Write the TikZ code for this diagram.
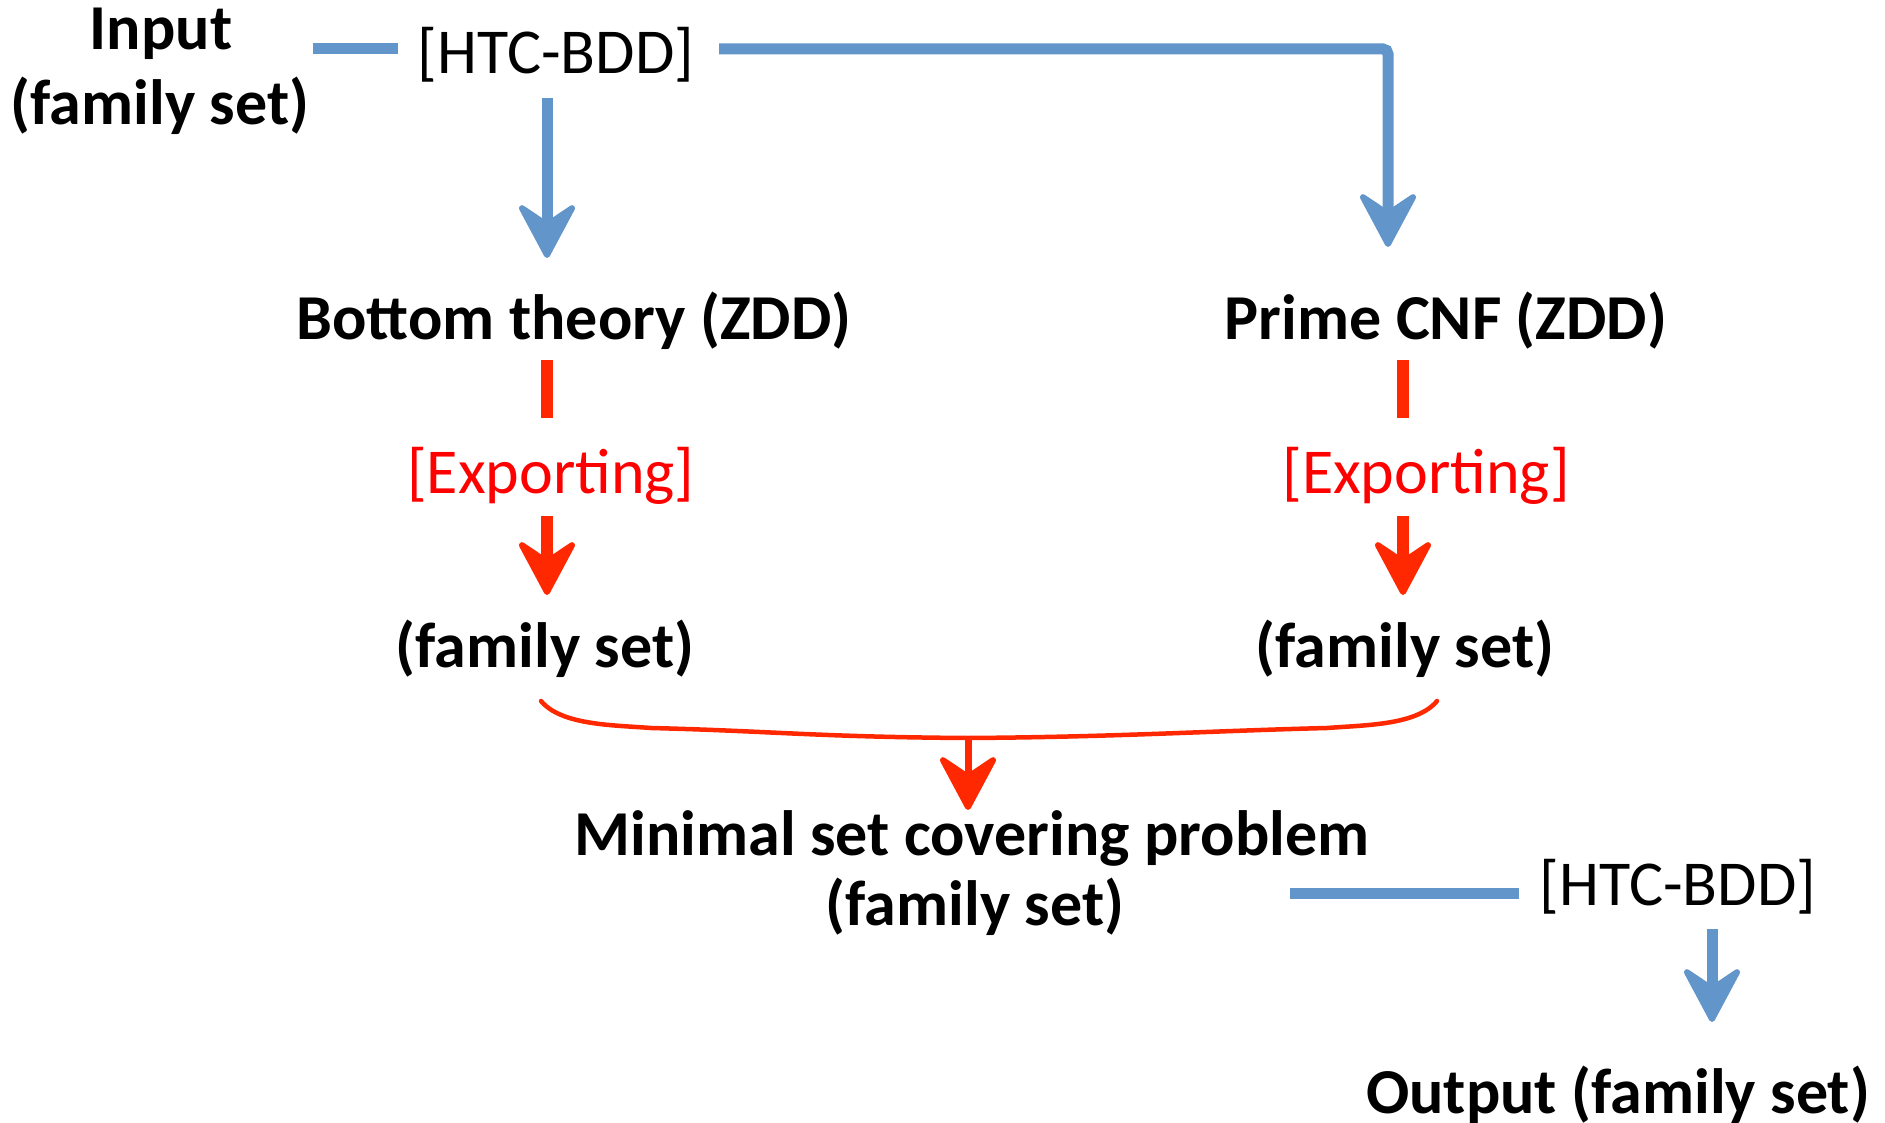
\documentclass[tikz,border=0pt]{standalone}
\usepackage{fontspec}
\setmainfont{Carlito}
\usetikzlibrary{arrows.meta,calc}
\definecolor{flowblue}{RGB}{98,149,202}
\definecolor{flowred}{RGB}{255,40,0}
\definecolor{labelred}{RGB}{255,0,0}

\begin{document}
\begin{tikzpicture}[x=1pt,y=-1pt,
  every node/.style={inner sep=0pt, outer sep=0pt},
  boldtext/.style={font=\fontsize{64}{75}\selectfont\bfseries, anchor=base},
  plaintext/.style={font=\fontsize{64}{75}\selectfont, anchor=base},
  redlabel/.style={plaintext, text=labelred},
  headtip/.style={-{Stealth[length=62pt,width=66pt,inset=22pt,round,line width=6pt]}},
  blueline/.style={draw=flowblue, line width=11pt},
  bluearrow/.style={blueline, headtip},
  redline/.style={draw=flowred, line width=12pt},
  redarrow/.style={redline, headtip},
  bracecurve/.style={draw=flowred, line width=4.5pt, line cap=round},
  mergearrow/.style={draw=flowred, line width=7pt, headtip}
]
\useasboundingbox (0,0) rectangle (1885,1123);

% text blocks
\node[boldtext] (inA) at (161,50) {Input};
\node[boldtext] (inB) at (160,125) {(family set)};
\node[plaintext] (htcA) at (556,74) {[HTC-BDD]};
\node[boldtext] (bot) at (574,339) {Bottom theory (ZDD)};
\node[boldtext] (prime) at (1446,339) {Prime CNF (ZDD)};
\node[redlabel] (expL) at (551,493) {[Exporting]};
\node[redlabel] (expR) at (1426,493) {[Exporting]};
\node[boldtext] (famL) at (545,667) {(family set)};
\node[boldtext] (famR) at (1405,667) {(family set)};
\node[boldtext] (msc) at (972,855) {Minimal set covering problem};
\node[boldtext] (mscB) at (975,925) {(family set)};
\node[plaintext] (htcB) at (1678,905) {[HTC-BDD]};
\node[boldtext] (out) at (1618,1113) {Output (family set)};

% input -> HTC-BDD
\draw[blueline] ($(inB.east |- htcA.base)+(4,-25)$) -- ($(htcA.base west)+(-20,-25)$);
% HTC-BDD -> prime CNF
\draw[bluearrow, rounded corners=5pt] ($(htcA.base east)+(25,-25)$) -| ($(prime.base)+(-58,-92)$);
% HTC-BDD -> bottom theory
\draw[bluearrow] ($(htcA.base)+(-9,24)$) -- ($(bot.base)+(-27,-81)$);

% exporting, left branch
\draw[redline] ($(bot.base)+(-27,21)$) -- ($(expL.base)+(-4,-75)$);
\draw[redarrow] ($(expL.base)+(-4,23)$) -- ($(famL.base)+(2,-72)$);
% exporting, right branch
\draw[redline] ($(prime.base)+(-43,21)$) -- ($(expR.base)+(-23,-75)$);
\draw[redarrow] ($(expR.base)+(-23,23)$) -- ($(famR.base)+(-2,-72)$);

% merging brace
\coordinate (bl) at ($(famL.base)+(-4,34)$);
\coordinate (br) at ($(famR.base)+(32,34)$);
\coordinate (mid) at ($(msc.base)+(-4,-117)$);
\coordinate (l2) at ($(bl)+(110,27)$);
\coordinate (r2) at ($(br)+(-110,27)$);
\draw[bracecurve] (bl) .. controls +(20,24) and +(-40,-3) .. (l2)
  .. controls +(120,3) and +(-150,-1) .. (mid)
  .. controls +(150,-1) and +(-120,3) .. (r2)
  .. controls +(40,-3) and +(-20,24) .. (br);
\draw[mergearrow] (mid) -- ($(msc.base)+(-4,-45)$);

% covering problem -> HTC-BDD -> output
\draw[blueline] ($(mscB.base east)+(166,-32)$) -- ($(htcB.base west)+(-21,-12)$);
\draw[bluearrow] ($(htcB.base)+(34,24)$) -- ($(out.base)+(94,-91)$);
\end{tikzpicture}
\end{document}
